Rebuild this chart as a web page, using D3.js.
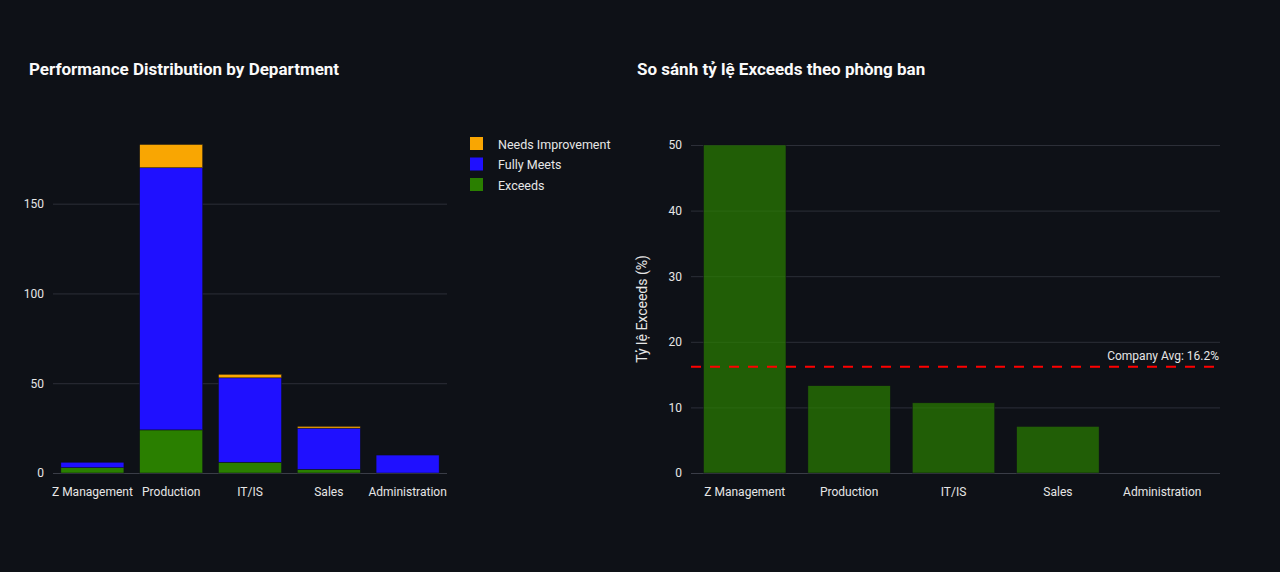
<!DOCTYPE html>
<html>
<head>
<meta charset="utf-8">
<script src="https://cdn.jsdelivr.net/npm/d3@7"></script>
<style>
  html, body { margin: 0; padding: 0; background: #0e1117; }
  svg { display: block; font-family: Roboto, "Noto Sans", sans-serif; }
</style>
</head>
<body>
<div id="chart"></div>
<script>
const departments = ["Z Management", "Production", "IT/IS", "Sales", "Administration"];
const exceeds = [3, 24, 6, 2, 0];
const fullyMeets = [3, 146, 47, 23, 10];
const needsImprovement = [0, 13, 2, 1, 0];
const exceedsRate = [50, 13.3, 10.7, 7.1, 0];
const companyAvg = 16.2;
const leftTicks = [0, 50, 100, 150];
const rightTicks = [0, 10, 20, 30, 40, 50];

const series = [
  {name: "Exceeds", values: exceeds, color: "#2a7f00"},
  {name: "Fully Meets", values: fullyMeets, color: "#1f10ff"},
  {name: "Needs Improvement", values: needsImprovement, color: "#f9a602"}
];

const W = 1280, H = 572;
const bg = "#0e1117", grid = "#2c2f38", zero = "#3a3d47", text = "#e6e6e6";

const svg = d3.select("#chart").append("svg")
  .attr("width", W).attr("height", H);
svg.append("rect").attr("width", W).attr("height", H).attr("fill", bg);

// ---------- left: stacked bars ----------
const L = {left: 53, right: 447, top: 128, bottom: 473};

const table = departments.map((d, i) => {
  const row = {dept: d};
  series.forEach(s => row[s.name] = s.values[i]);
  return row;
});
const stacked = d3.stack().keys(series.map(s => s.name))(table);

const x1 = d3.scaleBand().domain(departments)
  .range([L.left, L.right]).paddingInner(0.2).paddingOuter(0.1);
const y1 = d3.scaleLinear()
  .domain([0, d3.max(stacked[stacked.length - 1], d => d[1]) * 1.05])
  .range([L.bottom, L.top]);

svg.append("text")
  .attr("x", 29).attr("y", 75)
  .attr("fill", "#fafafa").attr("font-size", 17).attr("font-weight", 700)
  .text("Performance Distribution by Department");

const g1 = svg.append("g");
g1.append("g")
  .attr("transform", `translate(${L.left},0)`)
  .call(d3.axisLeft(y1).tickValues(leftTicks).tickSize(-(L.right - L.left)).tickPadding(9))
  .call(g => g.select(".domain").remove())
  .call(g => g.selectAll(".tick line").attr("stroke", d => d === 0 ? zero : grid))
  .call(g => g.selectAll(".tick text").attr("fill", text).attr("font-size", 12).attr("font-family", "Roboto, sans-serif"));

g1.append("g")
  .selectAll("g")
  .data(stacked)
  .join("g")
    .attr("fill", (d, i) => series[i].color)
  .selectAll("rect")
  .data(d => d)
  .join("rect")
    .attr("x", d => x1(d.data.dept))
    .attr("y", d => y1(d[1]))
    .attr("height", d => y1(d[0]) - y1(d[1]))
    .attr("width", x1.bandwidth())
    .attr("stroke", bg).attr("stroke-width", 0.5);

g1.append("g")
  .attr("transform", `translate(0,${L.bottom})`)
  .call(d3.axisBottom(x1).tickSize(0).tickPadding(14))
  .call(g => g.select(".domain").remove())
  .call(g => g.selectAll(".tick text").attr("fill", text).attr("font-size", 12).attr("font-family", "Roboto, sans-serif"));

// legend
const legend = svg.append("g").attr("transform", "translate(470,137)");
series.slice().reverse().forEach((s, i) => {
  const row = legend.append("g").attr("transform", `translate(0,${i * 20.5})`);
  row.append("rect").attr("width", 13).attr("height", 13).attr("fill", s.color);
  row.append("text").attr("x", 28).attr("y", 11.5).attr("fill", text)
    .attr("font-size", 12.5).text(s.name);
});

// ---------- right: exceeds rate ----------
const R = {left: 691, right: 1220, top: 145, bottom: 473};

const x2 = d3.scaleBand().domain(departments)
  .range([R.left, R.left + 525]).paddingInner(0.21).paddingOuter(0.12);
const y2 = d3.scaleLinear().domain([0, 50]).range([R.bottom, R.top]);

svg.append("text")
  .attr("x", 637).attr("y", 75)
  .attr("fill", "#fafafa").attr("font-size", 17).attr("font-weight", 700)
  .text("So sánh tỷ lệ Exceeds theo phòng ban");

const g2 = svg.append("g");
g2.append("g")
  .attr("transform", `translate(${R.left},0)`)
  .call(d3.axisLeft(y2).tickValues(rightTicks).tickSize(-(R.right - R.left)).tickPadding(9))
  .call(g => g.select(".domain").remove())
  .call(g => g.selectAll(".tick line").attr("stroke", d => d === 0 ? zero : grid))
  .call(g => g.selectAll(".tick text").attr("fill", text).attr("font-size", 12).attr("font-family", "Roboto, sans-serif"));

g2.append("g")
  .selectAll("rect")
  .data(departments)
  .join("rect")
    .attr("x", d => x2(d))
    .attr("y", (d, i) => y2(exceedsRate[i]))
    .attr("height", (d, i) => y2(0) - y2(exceedsRate[i]))
    .attr("width", x2.bandwidth())
    .attr("fill", "#2a7f00").attr("fill-opacity", 0.7)
    .attr("stroke", bg).attr("stroke-width", 0.5);

g2.append("g")
  .attr("transform", `translate(0,${R.bottom})`)
  .call(d3.axisBottom(x2).tickSize(0).tickPadding(14))
  .call(g => g.select(".domain").remove())
  .call(g => g.selectAll(".tick text").attr("fill", text).attr("font-size", 12).attr("font-family", "Roboto, sans-serif"));

g2.append("line")
  .attr("x1", R.left).attr("x2", R.right - 2)
  .attr("y1", y2(companyAvg)).attr("y2", y2(companyAvg))
  .attr("stroke", "#ff0000").attr("stroke-width", 2).attr("stroke-dasharray", "10,9");

g2.append("text")
  .attr("x", R.right - 1).attr("y", y2(companyAvg) - 7)
  .attr("text-anchor", "end").attr("fill", text).attr("font-size", 12)
  .text(`Company Avg: ${companyAvg}%`);

svg.append("text")
  .attr("transform", `translate(647,${(R.top + R.bottom) / 2}) rotate(-90)`)
  .attr("text-anchor", "middle").attr("fill", text).attr("font-size", 14)
  .text("Tỷ lệ Exceeds (%)");
</script>
</body>
</html>
